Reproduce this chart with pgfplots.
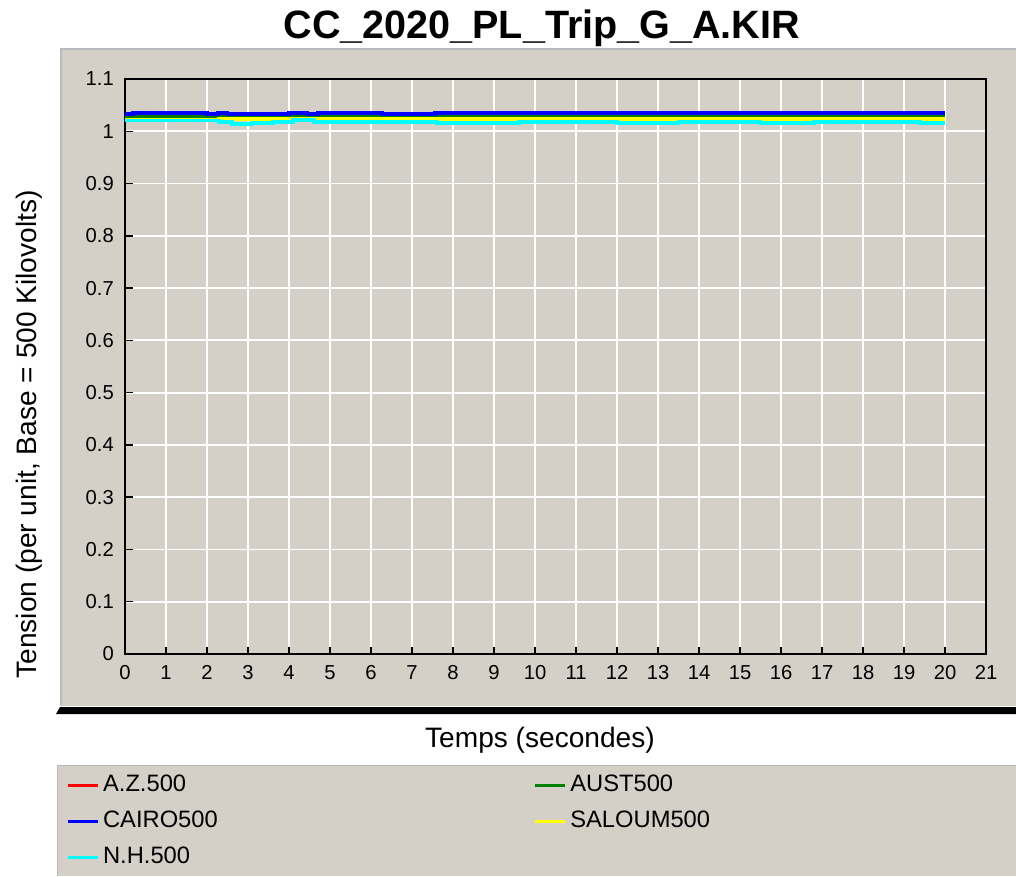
\documentclass[border=0pt]{standalone}
\usepackage{fontspec}
\setmainfont{Liberation Sans}
\usepackage{pgfplots}
\pgfplotsset{compat=1.18}
\definecolor{panel}{RGB}{212,208,200}
\definecolor{bevel}{RGB}{185,185,185}
\definecolor{cred}{RGB}{255,0,0}
\definecolor{cgreen}{RGB}{0,128,0}
\definecolor{cblue}{RGB}{0,0,255}
\definecolor{cyellow}{RGB}{255,255,0}
\definecolor{ccyan}{RGB}{0,255,255}
\begin{document}
\begin{tikzpicture}
\path[use as bounding box] (0,0) rectangle (20.32,-17.52);
\fill[white] (0,0) rectangle (20.32,-17.52);
\fill[panel] (1.2,-0.96) rectangle (20.32,-14.12);
\draw[bevel, line width=1.5pt] (1.22,-14.1) -- (1.22,-0.98) -- (20.32,-0.98);
\fill[black] (1.2,-14.14) -- (20.32,-14.14) -- (20.32,-14.28) -- (1.12,-14.28) -- cycle;
\fill[panel] (1.14,-15.3) rectangle (20.32,-17.52);
\draw[bevel, line width=1pt] (1.15,-17.52) -- (1.15,-15.31) -- (20.32,-15.31);
\begin{axis}[
  at={(2.5cm,-13.08cm)}, anchor=south west, scale only axis,
  width=17.22cm, height=11.5cm,
  xmin=0, xmax=21, ymin=0, ymax=1.1,
  xtick={0,1,2,3,4,5,6,7,8,9,10,11,12,13,14,15,16,17,18,19,20,21},
  ytick={0,0.1,0.2,0.3,0.4,0.5,0.6,0.7,0.8,0.9,1.0,1.1},
  yticklabels={0,0.1,0.2,0.3,0.4,0.5,0.6,0.7,0.8,0.9,1,1.1},
  grid=major, grid style={white, line width=1pt},
  axis line style={black, line width=1.2pt},
  tick style={black, line width=0.8pt},
  tick align=inside, major tick length=0.15cm,
  xtick pos=bottom, ytick pos=left,
  axis background/.style={fill=panel},
  tick label style={font=\fontsize{11.5}{13}\selectfont},
  /pgf/number format/assume math mode=true,
  xticklabel style={yshift=-0.1cm},
  yticklabel style={xshift=-0.1cm},
  title={CC\_2020\_PL\_Trip\_G\_A.KIR},
  title style={font=\fontsize{22.5}{27}\selectfont\bfseries, at={(rel axis cs:0.484,1.070)}, anchor=center, yshift=0pt},
  xlabel={Temps (secondes)},
  xlabel style={font=\fontsize{16}{19}\selectfont, at={(rel axis cs:0.482,-0.1494)}, anchor=center},
  ylabel={Tension (per unit, Base = 500 Kilovolts)},
  ylabel style={font=\fontsize{16}{19}\selectfont, at={(rel axis cs:-0.1110,0.382)}, anchor=center},
  legend columns=2,
  legend cell align=left,
  legend image code/.code={\draw[#1, line width=2pt] (0cm,0cm) -- (0.6cm,0cm);},
  legend style={draw=none, fill=none, at={(rel axis cs:-0.0750,-0.1962)}, anchor=north west,
    font=\fontsize{13.5}{16}\selectfont, row sep=0.12cm,
    nodes={text height=10pt, text depth=3pt},
    /tikz/every even column/.append style={column sep=6.24cm}},
  every axis plot/.append style={line width=2.2pt, const plot, mark=none},
]
\addplot[cred] coordinates {(0,1.027) (4.2,1.0295) (20,1.0295)};
\addlegendentry{A.Z.500}
\addplot[cgreen] coordinates {(0,1.0300) (20,1.0300)};
\addlegendentry{AUST500}
\addplot[cblue] coordinates {(0,1.0325) (0.2,1.0355) (2.0,1.0325) (2.27,1.0355) (2.5,1.0325) (4.0,1.0355) (4.45,1.0325) (4.7,1.0355) (6.27,1.0325) (7.56,1.0355) (20,1.0355)};
\addlegendentry{CAIRO500}
\addplot[cyellow] coordinates {(0,1.022) (2.3,1.0235) (20,1.0235)};
\addlegendentry{SALOUM500}
\addplot[ccyan] coordinates {(0,1.0205) (2.3,1.018) (2.6,1.0135) (3.1,1.016) (3.6,1.0185) (4.1,1.0215) (4.6,1.0175) (6.5,1.0185) (7.6,1.0155) (9.6,1.0185) (12.0,1.0155) (13.5,1.0185) (15.5,1.0155) (16.8,1.0185) (19.4,1.0155) (20,1.0155)};
\addlegendentry{N.H.500}
\end{axis}
\end{tikzpicture}
\end{document}
